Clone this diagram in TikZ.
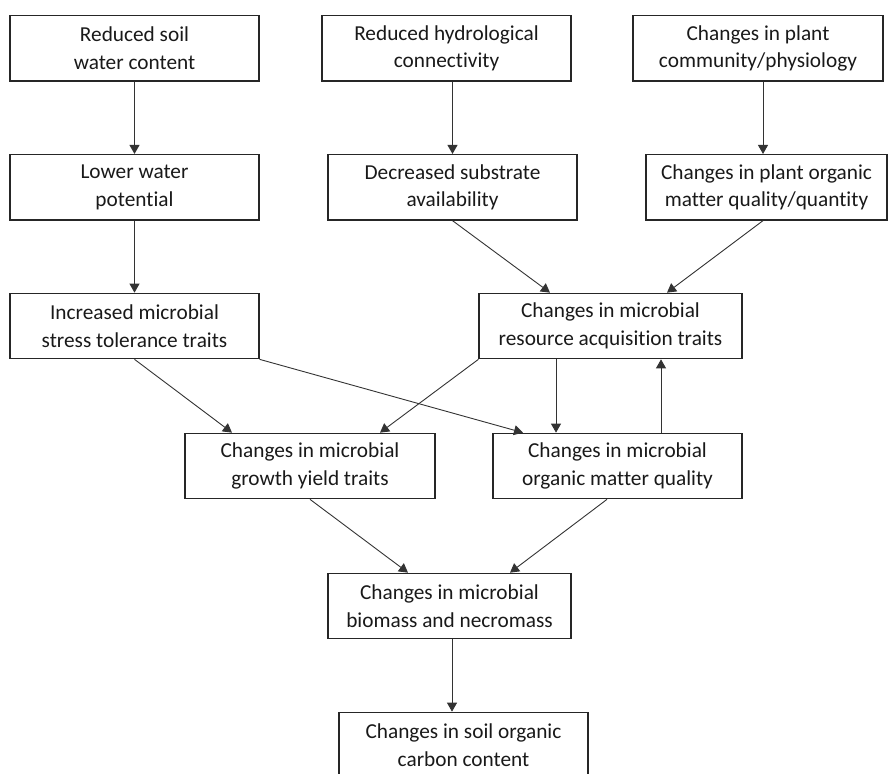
\documentclass[tikz,border=0pt]{standalone}
\usepackage{fontspec}
\setmainfont{Carlito}[Ligatures=NoCommon]
\usetikzlibrary{arrows.meta,calc}
\begin{document}
\begin{tikzpicture}[x=1pt,y=-1pt,
  box/.style={draw=black!85,line width=1.2pt,inner sep=0pt,minimum height=65.5pt,align=center,
    font=\fontsize{21.3}{27.5}\selectfont,text=black!90},
  arr/.style={draw=black!80,line width=0.9pt,-{Triangle[length=9pt,width=10pt]}}]
\useasboundingbox (0,0) rectangle (888,773);
% row 1
\node[box,minimum width=249pt] (b1) at (134.5,48.3) {Reduced soil\\water content};
\node[box,minimum width=249pt] (b2) at (446.5,48.3) {Reduced hydrological\\connectivity};
\node[box,minimum width=250pt] (b3) at (758,48.3) {Changes in plant\\community/physiology};
% row 2
\node[box,minimum width=249pt] (b4) at (134.5,187.3) {Lower water\\potential};
\node[box,minimum width=249pt] (b5) at (452.5,187.3) {Decreased substrate\\availability};
\node[box,minimum width=241pt] (b6) at (766.5,187.3) {Changes in plant organic\\matter quality/quantity};
% row 3
\node[box,minimum width=249pt] (b7) at (134.5,326) {Increased microbial\\stress tolerance traits};
\node[box,minimum width=263pt] (b8) at (610.5,326) {Changes in microbial\\resource acquisition traits};
% row 4
\node[box,minimum width=250pt] (b9) at (310,466) {Changes in microbial\\growth yield traits};
\node[box,minimum width=249pt] (b10) at (617.5,466) {Changes in microbial\\organic matter quality};
% row 5
\node[box,minimum width=243pt] (b11) at (449.5,606) {Changes in microbial\\biomass and necromass};
% row 6 (cut by the lower edge)
\node[box,minimum width=249pt] (b12) at (463.5,745) {Changes in soil organic\\carbon content};
% connectors
\draw[arr] (b1.south) -- (b4.north);
\draw[arr] (b5.north |- b2.south) -- (b5.north);
\draw[arr] ([xshift=5pt]b3.south) -- ([xshift=5pt]b3.south |- b6.north);
\draw[arr] (b4.south) -- (b7.north);
\draw[arr] (b5.south) -- ([xshift=-60.5pt]b8.north);
\draw[arr] ([xshift=-3.5pt]b6.south) -- ([xshift=56.5pt]b8.north);
\draw[arr] (b7.south) -- ([xshift=-78pt]b9.north);
\draw[arr] (b7.south east) -- ([xshift=-94.5pt]b10.north);
\draw[arr] (b8.south west) -- ([xshift=70pt]b9.north);
\draw[arr] ([xshift=-54.5pt]b8.south) -- ([xshift=-54.5pt]b8.south |- b10.north);
\draw[arr] ([xshift=43.5pt]b10.north) -- ([xshift=43.5pt]b10.north |- b8.south);
\draw[arr] (b9.south) -- ([xshift=-41.5pt]b11.north);
\draw[arr] ([xshift=-10.5pt]b10.south) -- ([xshift=60.5pt]b11.north);
\draw[arr] ([xshift=2.5pt]b11.south) -- ([xshift=2.5pt]b11.south |- b12.north);
\end{tikzpicture}
\end{document}
